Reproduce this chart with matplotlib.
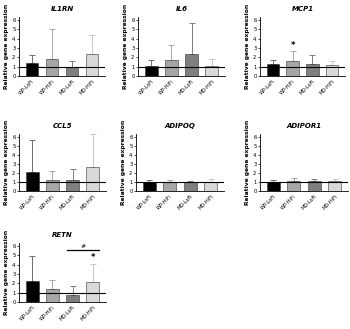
import numpy as np
import matplotlib
matplotlib.use("Agg")
import matplotlib.pyplot as plt

groups = ["WP-LoFi", "WP-HiFi", "MD-LoFi", "MD-HiFi"]
colors = ["#000000", "#a6a6a6", "#7f7f7f", "#d9d9d9"]
ecolors = ["#6e6e6e", "#a6a6a6", "#7f7f7f", "#c8c8c8"]

genes = ["IL1RN", "IL6", "MCP1", "CCL5", "ADIPOQ", "ADIPOR1", "RETN"]
il1rn_mean = [1.4, 1.85, 1.0, 2.35]
il1rn_top = [2.25, 5.05, 1.65, 4.4]
il6_mean = [1.1, 1.75, 2.3, 1.1]
il6_top = [1.75, 3.35, 5.65, 1.85]
mcp1_mean = [1.25, 1.6, 1.25, 1.2]
mcp1_top = [1.75, 2.65, 2.2, 1.65]
ccl5_mean = [2.15, 1.25, 1.25, 2.7]
ccl5_top = [5.65, 2.2, 2.45, 6.3]
adipoq_mean = [1.0, 1.05, 1.0, 1.05]
adipoq_top = [1.2, 1.2, 1.1, 1.3]
adipor1_mean = [1.0, 1.1, 1.1, 1.1]
adipor1_top = [1.2, 1.45, 1.3, 1.35]
retn_mean = [2.2, 1.4, 0.8, 2.15]
retn_top = [4.95, 2.4, 1.7, 4.05]

means = [il1rn_mean, il6_mean, mcp1_mean, ccl5_mean, adipoq_mean, adipor1_mean, retn_mean]
tops = [il1rn_top, il6_top, mcp1_top, ccl5_top, adipoq_top, adipor1_top, retn_top]

# panel boxes in pixels: left, right, top, bottom
boxes = [(19, 105, 17, 76), (138, 225, 17, 76), (260, 345, 17, 76),
         (19, 106, 134, 191), (136, 224, 134, 191), (260, 348, 134, 191),
         (19, 106, 243, 302)]

W, H = 350, 329
fig = plt.figure(figsize=(W / 100, H / 100), dpi=100)
x = np.arange(4)

for i, g in enumerate(genes):
    l, r, t, b = boxes[i]
    ax = fig.add_axes([l / W, 1 - b / H, (r - l) / W, (b - t) / H])
    m = np.array(means[i])
    e = np.array(tops[i]) - m
    for j in range(4):
        ax.bar(x[j], m[j], width=0.63, color=colors[j], edgecolor="#333333", linewidth=0.4, zorder=2)
        ax.errorbar(x[j], m[j], yerr=[[0], [e[j]]], color=ecolors[j], capsize=2, elinewidth=0.7,
                    capthick=0.7, fmt="none", zorder=1)
    ax.axhline(1, color="black", lw=0.8, zorder=3)
    ax.set_xlim(-0.65, 3.65)
    ax.set_ylim(0, 6.3)
    ax.set_yticks(range(7))
    ax.set_xticks(x)
    ax.set_xticklabels(groups, rotation=45, ha="right", rotation_mode="anchor", fontsize=3.6)
    ax.tick_params(axis="y", labelsize=3.8, length=1.5, width=0.5, pad=1)
    ax.tick_params(axis="x", length=0, pad=2)
    for s in ["top", "right"]:
        ax.spines[s].set_visible(False)
    ax.spines["left"].set_linewidth(0.6)
    ax.spines["bottom"].set_linewidth(0.6)
    ax.set_ylabel("Relative gene expression", fontsize=4.3, fontweight="bold", labelpad=2)
    ax.set_title(g, fontsize=5, fontweight="bold", style="italic", pad=4)
    if g == "MCP1":
        ax.text(1, 3.3, "*", ha="center", va="center", fontsize=6, fontweight="bold")
    if g == "RETN":
        ax.text(3, 4.75, "*", ha="center", va="center", fontsize=6, fontweight="bold")
        ax.plot([2 - 0.3, 3 + 0.3], [5.5, 5.5], color="black", lw=0.9)
        ax.text(2.5, 5.95, "#", ha="center", va="center", fontsize=4.5)

fig.savefig("out.png", dpi=100)
